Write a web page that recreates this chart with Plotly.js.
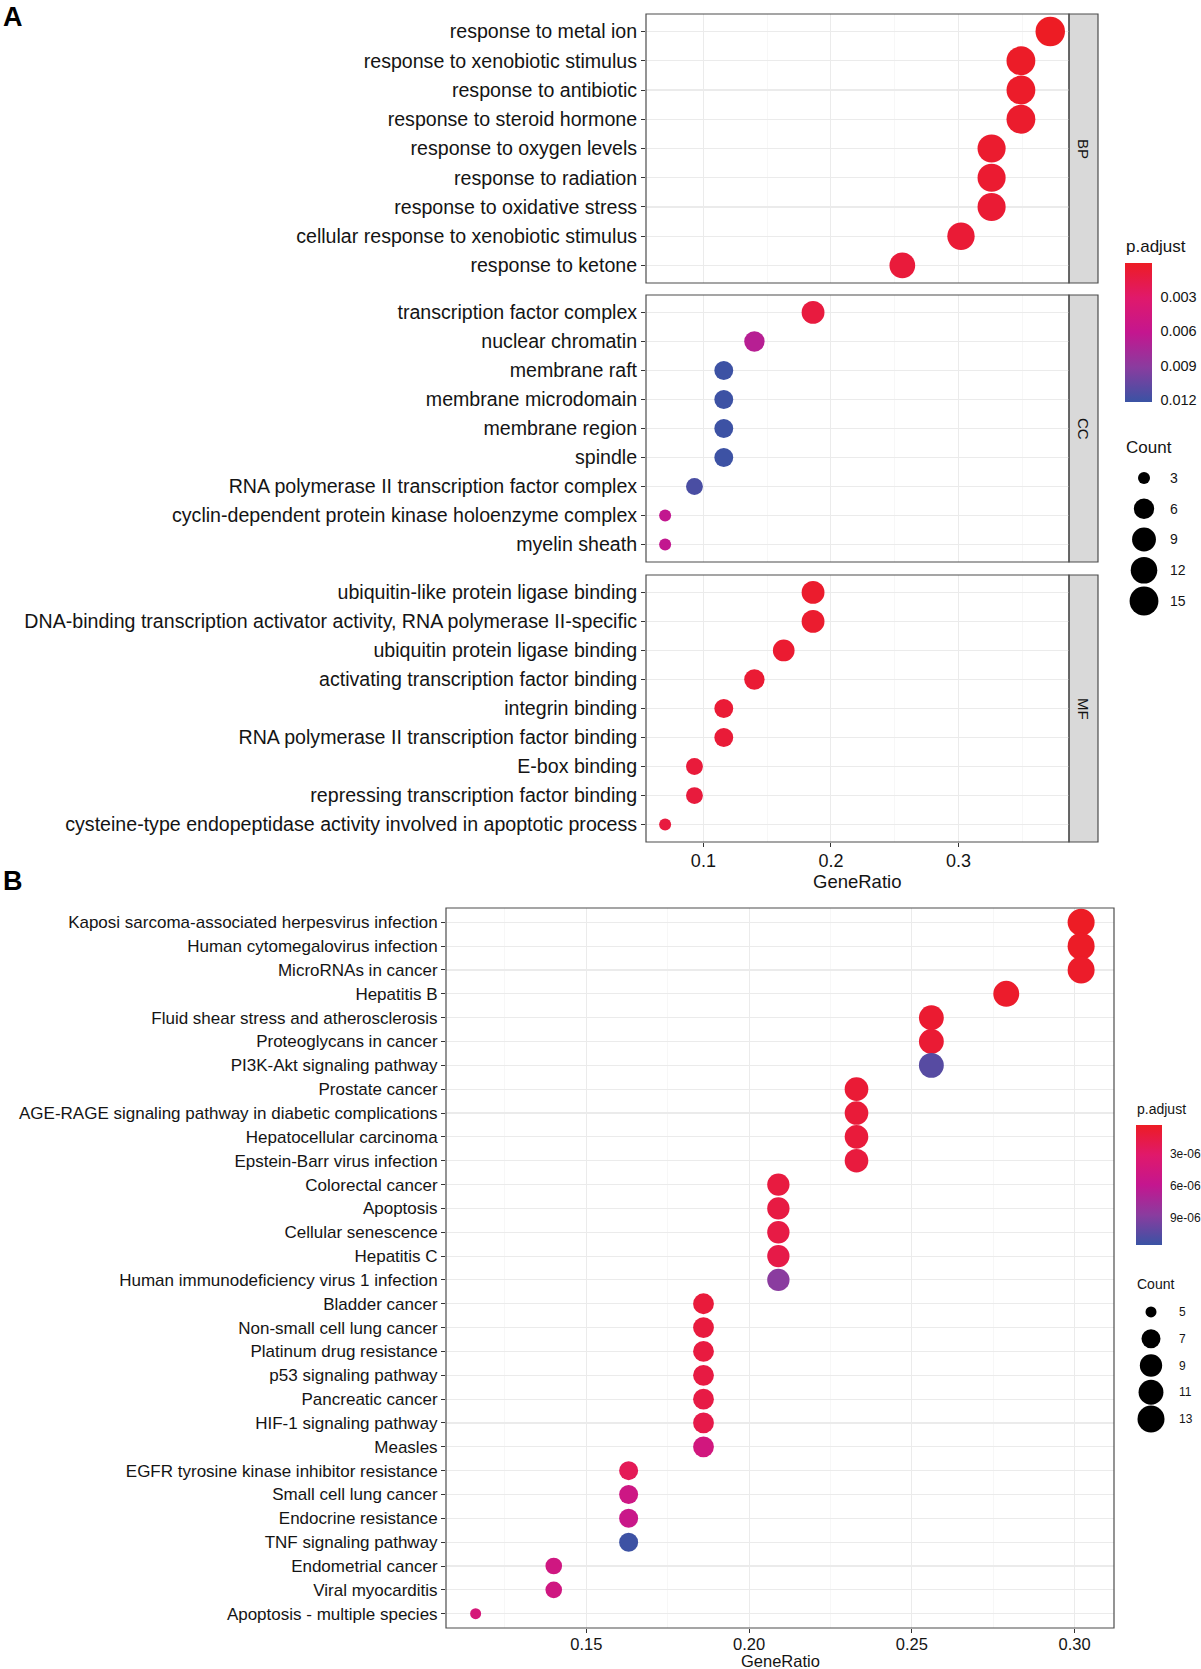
<!DOCTYPE html>
<html><head><meta charset="utf-8">
<script src="https://cdn.plot.ly/plotly-3.0.1.min.js"></script>
<style>html,body{margin:0;padding:0;background:#fff}#chart{width:1201px;height:1669px}</style>
</head><body><div id="chart"></div>
<script>
// ---------- Panel A: GO enrichment ----------
const bpTerms = ["response to metal ion","response to xenobiotic stimulus","response to antibiotic","response to steroid hormone","response to oxygen levels","response to radiation","response to oxidative stress","cellular response to xenobiotic stimulus","response to ketone"];
const bpRatio = [0.372,0.349,0.349,0.349,0.326,0.326,0.326,0.302,0.256];
const bpCount = [16,15,15,15,14,14,14,13,11];
const bpPadj  = [0.00003,0.0002,0.0003,0.0004,0.0005,0.0006,0.0007,0.0008,0.0010];

const ccTerms = ["transcription factor complex","nuclear chromatin","membrane raft","membrane microdomain","membrane region","spindle","RNA polymerase II transcription factor complex","cyclin-dependent protein kinase holoenzyme complex","myelin sheath"];
const ccRatio = [0.186,0.140,0.116,0.116,0.116,0.116,0.093,0.070,0.070];
const ccCount = [8,6,5,5,5,5,4,3,3];
const ccPadj  = [0.0012,0.0068,0.0121,0.0121,0.0121,0.0121,0.0116,0.0062,0.0062];

const mfTerms = ["ubiquitin-like protein ligase binding","DNA-binding transcription activator activity, RNA polymerase II-specific","ubiquitin protein ligase binding","activating transcription factor binding","integrin binding","RNA polymerase II transcription factor binding","E-box binding","repressing transcription factor binding","cysteine-type endopeptidase activity involved in apoptotic process"];
const mfRatio = [0.186,0.186,0.163,0.140,0.116,0.116,0.093,0.093,0.070];
const mfCount = [8,8,7,6,5,5,4,4,3];
const mfPadj  = [0.0004,0.0005,0.0006,0.0007,0.0008,0.0009,0.0010,0.0011,0.0012];

const facetNames = ["BP","CC","MF"];
const legendCountsA = [3,6,9,12,15];
const pTicksA = [0.003,0.006,0.009,0.012];
const pTickTextA = ["0.003","0.006","0.009","0.012"];
const xTicksA = [0.1,0.2,0.3];

// ---------- Panel B: KEGG enrichment ----------
const keggTerms = ["Kaposi sarcoma-associated herpesvirus infection","Human cytomegalovirus infection","MicroRNAs in cancer","Hepatitis B","Fluid shear stress and atherosclerosis","Proteoglycans in cancer","PI3K-Akt signaling pathway","Prostate cancer","AGE-RAGE signaling pathway in diabetic complications","Hepatocellular carcinoma","Epstein-Barr virus infection","Colorectal cancer","Apoptosis","Cellular senescence","Hepatitis C","Human immunodeficiency virus 1 infection","Bladder cancer","Non-small cell lung cancer","Platinum drug resistance","p53 signaling pathway","Pancreatic cancer","HIF-1 signaling pathway","Measles","EGFR tyrosine kinase inhibitor resistance","Small cell lung cancer","Endocrine resistance","TNF signaling pathway","Endometrial cancer","Viral myocarditis","Apoptosis - multiple species"];
const keggRatio = [0.302,0.302,0.302,0.279,0.256,0.256,0.256,0.233,0.233,0.233,0.233,0.209,0.209,0.209,0.209,0.209,0.186,0.186,0.186,0.186,0.186,0.186,0.186,0.163,0.163,0.163,0.163,0.140,0.140,0.116];
const keggCount = [13,13,13,12,11,11,11,10,10,10,10,9,9,9,9,9,8,8,8,8,8,8,8,7,7,7,7,6,6,5];
const keggPadj  = [3e-7,4e-7,5e-7,6e-7,8e-7,9e-7,1.05e-5,1.0e-6,1.1e-6,1.2e-6,1.3e-6,1.4e-6,1.5e-6,1.6e-6,1.7e-6,8.7e-6,1.2e-6,1.3e-6,1.4e-6,1.5e-6,1.6e-6,1.8e-6,4.6e-6,2.3e-6,5.0e-6,5.4e-6,1.14e-5,4.8e-6,4.8e-6,4.2e-6];
const legendCountsB = [5,7,9,11,13];
const pTicksB = [3e-6,6e-6,9e-6];
const pTickTextB = ["3e-06","6e-06","9e-06"];
const xTicksB = [0.15,0.20,0.25,0.30];

// ---------- helpers ----------
const W = 1201, H = 1669;
const px = v => v / W;
const py = v => 1 - v / H;
const FONT = "Liberation Sans, Arial, Helvetica, sans-serif";
const TXT = "#141414";
const GRID = "#EBEBEB", GRIDMINOR = "#F3F3F3";
const colorscale = [[0,"#3A53A4"],[0.25,"#8A3C9F"],[0.5,"#C4168F"],[0.75,"#E0196B"],[1,"#ED1C24"]];

function areaSize(c, lo, hi, dmin, dmax){ return dmin + (dmax - dmin) * Math.sqrt(Math.max(0,(c - lo)) / (hi - lo)); }
const sizeA = c => areaSize(c, 3, 16, 12, 29.5);
const sizeB = c => areaSize(c, 5, 13, 11, 27);
const neg = arr => arr.map(v => -v);

function dotTrace(x, y, counts, padj, sizeFn, xa, ya, cax){
  return {type:"scatter", mode:"markers", x:x, y:y, xaxis:xa, yaxis:ya,
    marker:{size:counts.map(sizeFn), color:neg(padj), coloraxis:cax, symbol:"circle", line:{width:0}, opacity:1},
    hoverinfo:"x+y", showlegend:false, cliponaxis:false};
}

const traces = [
  dotTrace(bpRatio, bpTerms, bpCount, bpPadj, sizeA, "x", "y", "coloraxis"),
  dotTrace(ccRatio, ccTerms, ccCount, ccPadj, sizeA, "x", "y2", "coloraxis"),
  dotTrace(mfRatio, mfTerms, mfCount, mfPadj, sizeA, "x", "y3", "coloraxis"),
  dotTrace(keggRatio, keggTerms, keggCount, keggPadj, sizeB, "x2", "y4", "coloraxis2"),
  // size legends
  {type:"scatter", mode:"markers", x:legendCountsA.map(()=>24), y:legendCountsA.map((c,i)=>i), xaxis:"x3", yaxis:"y5",
   marker:{size:legendCountsA.map(sizeA), color:"#000000", line:{width:0}, opacity:1}, hoverinfo:"skip", showlegend:false, cliponaxis:false},
  {type:"scatter", mode:"markers", x:legendCountsB.map(()=>31), y:legendCountsB.map((c,i)=>i), xaxis:"x4", yaxis:"y6",
   marker:{size:legendCountsB.map(sizeB), color:"#000000", line:{width:0}, opacity:1}, hoverinfo:"skip", showlegend:false, cliponaxis:false}
];

// panel pixel geometry
const A = {l:646, r:1069, strip:1098, panels:[[14,283],[295,562],[575,842]]};
const B = {l:446, r:1114, t:908, b:1628};
const CBA = {l:1125, t:263, b:402, w:27, pmin:0.00003, pmax:0.0122};
const CBB = {l:1136, t:1125, b:1245, w:26, pmin:2.8e-7, pmax:1.15e-5};

function catAxis(terms, dom, fs){
  return {type:"category", categoryorder:"array", categoryarray:terms, range:[terms.length-1+0.6,-0.6],
    domain:dom, anchor:"x", showgrid:true, gridcolor:GRID, gridwidth:1.1, zeroline:false, showline:false,
    ticks:"outside", ticklen:4, tickwidth:1, tickcolor:"#333", tickfont:{family:FONT, size:fs, color:TXT}, fixedrange:true};
}

function cbar(cb, tv, tt, fs){
  return {x:px(cb.l), xanchor:"left", xpad:0, y:py(cb.t), yanchor:"top", ypad:0, len:(cb.b-cb.t)/H, lenmode:"fraction",
    thickness:cb.w, outlinewidth:0, tickvals:neg(tv), ticktext:tt, ticks:"outside", tickcolor:"rgba(0,0,0,0)", ticklen:6,
    tickfont:{family:FONT, size:fs, color:TXT}, title:{text:""}};
}

const layout = {
  width:W, height:H, margin:{l:0,r:0,t:0,b:0}, paper_bgcolor:"#fff", plot_bgcolor:"#fff",
  font:{family:FONT, color:TXT}, showlegend:false, hovermode:"closest",
  xaxis:{domain:[px(A.l),px(A.r)], anchor:"y3", range:[0.055,0.3867], tickvals:xTicksA, tickformat:".1f",
    showgrid:true, gridcolor:GRID, gridwidth:1.1, zeroline:false, showline:false,
    minor:{dtick:0.05, tick0:0, showgrid:true, gridcolor:GRIDMINOR, gridwidth:0.7, ticks:""},
    ticks:"outside", ticklen:4, tickcolor:"#333", ticklabelstandoff:-2, tickfont:{family:FONT, size:18, color:TXT}, fixedrange:true},
  yaxis: catAxis(bpTerms, [py(A.panels[0][1]), py(A.panels[0][0])], 19.6),
  yaxis2:catAxis(ccTerms, [py(A.panels[1][1]), py(A.panels[1][0])], 19.6),
  yaxis3:catAxis(mfTerms, [py(A.panels[2][1]), py(A.panels[2][0])], 19.6),
  xaxis2:{domain:[px(B.l),px(B.r)], anchor:"y4", range:[0.1069,0.3121], tickvals:xTicksB, tickformat:".2f",
    showgrid:true, gridcolor:GRID, gridwidth:1.1, zeroline:false, showline:false,
    minor:{dtick:0.025, tick0:0, showgrid:true, gridcolor:GRIDMINOR, gridwidth:0.7, ticks:""},
    ticks:"outside", ticklen:4, tickcolor:"#333", ticklabelstandoff:-3, tickfont:{family:FONT, size:16.5, color:TXT}, fixedrange:true},
  yaxis4:Object.assign(catAxis(keggTerms, [py(B.b), py(B.t)], 17), {anchor:"x2"}),
  xaxis3:{domain:[px(1120),px(1200)], range:[0,80], visible:false, anchor:"y5", fixedrange:true},
  yaxis5:{domain:[py(616.4),py(462.6)], range:[4.5,-0.5], visible:false, anchor:"x3", fixedrange:true},
  xaxis4:{domain:[px(1120),px(1200)], range:[0,80], visible:false, anchor:"y6", fixedrange:true},
  yaxis6:{domain:[py(1432.4),py(1298.6)], range:[4.5,-0.5], visible:false, anchor:"x4", fixedrange:true},
  coloraxis:{cmin:-CBA.pmax, cmax:-CBA.pmin, colorscale:colorscale, showscale:true, colorbar:cbar(CBA, pTicksA, pTickTextA, 14.5)},
  coloraxis2:{cmin:-CBB.pmax, cmax:-CBB.pmin, colorscale:colorscale, showscale:true, colorbar:cbar(CBB, pTicksB, pTickTextB, 12)},
  shapes:[], annotations:[]
};

// white tick marks inside the colour bars (ggplot style)
function cbTicks(cb, tv){
  tv.forEach(p=>{
    const yy = cb.t + (p - cb.pmin)/(cb.pmax - cb.pmin)*(cb.b - cb.t);
    [[cb.l, cb.l+5],[cb.l+cb.w-5, cb.l+cb.w]].forEach(([a,b])=>{
      layout.shapes.push({type:"line", xref:"paper", yref:"paper", x0:px(a), x1:px(b), y0:py(yy), y1:py(yy), line:{color:"#fff", width:1}, layer:"above"});
    });
  });
}
cbTicks(CBA, pTicksA);
cbTicks(CBB, pTicksB);

// panel borders and strips
["y","y2","y3"].forEach((ya,i)=>{
  layout.shapes.push({type:"rect", xref:"x domain", yref:ya+" domain", x0:0, x1:1, y0:0, y1:1, line:{color:"#4d4d4d", width:1.2}, fillcolor:"rgba(0,0,0,0)", layer:"above"});
  layout.shapes.push({type:"rect", xref:"paper", yref:ya+" domain", x0:px(A.r), x1:px(A.strip), y0:0, y1:1, line:{color:"#4d4d4d", width:1.2}, fillcolor:"#D9D9D9", layer:"below"});
  layout.annotations.push({text:facetNames[i], xref:"paper", yref:ya+" domain", x:px((A.r+A.strip)/2), y:0.5, xanchor:"center", yanchor:"middle", showarrow:false, textangle:90, font:{family:FONT, size:15, color:TXT}});
});
layout.shapes.push({type:"rect", xref:"x2 domain", yref:"y4 domain", x0:0, x1:1, y0:0, y1:1, line:{color:"#4d4d4d", width:1.2}, fillcolor:"rgba(0,0,0,0)", layer:"above"});

function ann(text, x, y, size, opts){
  return Object.assign({text:text, xref:"paper", yref:"paper", x:px(x), y:py(y), xanchor:"left", yanchor:"middle", showarrow:false, font:{family:FONT, size:size, color:TXT}}, opts||{});
}
layout.annotations.push(ann("<b>A</b>", 1, 17, 27, {font:{family:FONT,size:27,color:"#000"}}));
layout.annotations.push(ann("<b>B</b>", 1, 881, 27, {font:{family:FONT,size:27,color:"#000"}}));
layout.annotations.push(ann("GeneRatio", (A.l+A.r)/2, 881, 18.5, {xanchor:"center"}));
layout.annotations.push(ann("GeneRatio", (B.l+B.r)/2, 1661, 16.5, {xanchor:"center"}));
layout.annotations.push(ann("p.adjust", 1124, 246, 17));
layout.annotations.push(ann("Count", 1124, 448, 17));
layout.annotations.push(ann("p.adjust", 1135, 1109, 14));
layout.annotations.push(ann("Count", 1135, 1284, 14));
legendCountsA.forEach((c,i)=>layout.annotations.push({text:String(c), xref:"x3", yref:"y5", x:48, y:i, xanchor:"left", yanchor:"middle", showarrow:false, font:{family:FONT,size:14,color:TXT}}));
legendCountsB.forEach((c,i)=>layout.annotations.push({text:String(c), xref:"x4", yref:"y6", x:57, y:i, xanchor:"left", yanchor:"middle", showarrow:false, font:{family:FONT,size:12,color:TXT}}));

Plotly.newPlot("chart", traces, layout, {staticPlot:true, displayModeBar:false});
</script>
</body></html>
